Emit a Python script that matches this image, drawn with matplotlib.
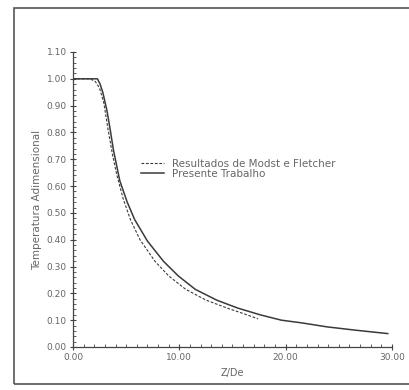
import numpy as np
import matplotlib.pyplot as plt
from matplotlib.ticker import MultipleLocator
from matplotlib.patches import Rectangle

# Modest & Fletcher results (dashed)
z_mf = [0.0, 1.6, 2.1, 2.5, 2.9, 3.3, 3.7, 4.1, 4.7, 5.4, 6.3, 7.7, 9.0, 10.6, 12.5, 14.5, 16.0, 17.4]
t_mf = [1.0, 1.0, 0.99, 0.965, 0.91, 0.81, 0.72, 0.645, 0.555, 0.475, 0.40, 0.32, 0.265, 0.215, 0.175, 0.145, 0.125, 0.105]

# present work (solid)
z_pt = [0.0, 2.3, 2.55, 2.8, 3.2, 3.5, 3.8, 4.4, 5.1, 5.8, 7.0, 8.5, 9.9, 11.5, 13.5, 15.5,
        17.6, 19.6, 21.5, 23.9, 26.5, 29.6]
t_pt = [1.0, 1.0, 0.98, 0.95, 0.88, 0.81, 0.735, 0.62, 0.54, 0.475, 0.395, 0.32, 0.265, 0.215,
        0.175, 0.145, 0.12, 0.10, 0.09, 0.075, 0.063, 0.05]

ink = '#3a3a3a'
txt = '#666666'

fig = plt.figure(figsize=(4.1, 3.9), dpi=100)
fig.patches.append(Rectangle((14 / 410, 1 - 384 / 390), 400 / 410, 376 / 390,
                             transform=fig.transFigure, fill=False,
                             edgecolor='#555555', linewidth=1.2))

ax = fig.add_axes([73 / 410, 1 - 347 / 390, 319 / 410, 295 / 390])
ax.plot(z_mf, t_mf, linestyle=(0, (2.5, 1.5)), color=ink, linewidth=0.8,
        label='Resultados de Modst e Fletcher')
ax.plot(z_pt, t_pt, color=ink, linewidth=1.1, label='Presente Trabalho')

ax.set_xlim(0, 30)
ax.set_ylim(0, 1.10)
ax.spines['top'].set_visible(False)
ax.spines['right'].set_visible(False)
for s in ('left', 'bottom'):
    ax.spines[s].set_color('#444444')
    ax.spines[s].set_linewidth(0.9)

ax.xaxis.set_major_locator(MultipleLocator(10))
ax.xaxis.set_minor_locator(MultipleLocator(1))
ax.yaxis.set_major_locator(MultipleLocator(0.1))
ax.yaxis.set_minor_locator(MultipleLocator(0.02))
ax.xaxis.set_major_formatter(lambda v, p: f'{v:.2f}')
ax.yaxis.set_major_formatter(lambda v, p: f'{v:.2f}')
ax.tick_params(which='major', direction='inout', length=5, width=0.8,
               colors='#444444', labelcolor=txt, labelsize=6.5, pad=2)
ax.tick_params(which='minor', direction='in', length=2.5, width=0.6, colors='#444444')

ax.set_xlabel('Z/De', fontsize=7, color=txt, labelpad=4)
ax.set_ylabel('Temperatura Adimensional', fontsize=7.5, color=txt, labelpad=3)

ax.legend(loc='upper left', bbox_to_anchor=(0.2, 0.652), frameon=False,
          fontsize=7.5, handlelength=2.2, handletextpad=0.8,
          labelspacing=0.0, labelcolor=txt, borderaxespad=0.0)

fig.savefig('out.png', dpi=100, facecolor='white')
